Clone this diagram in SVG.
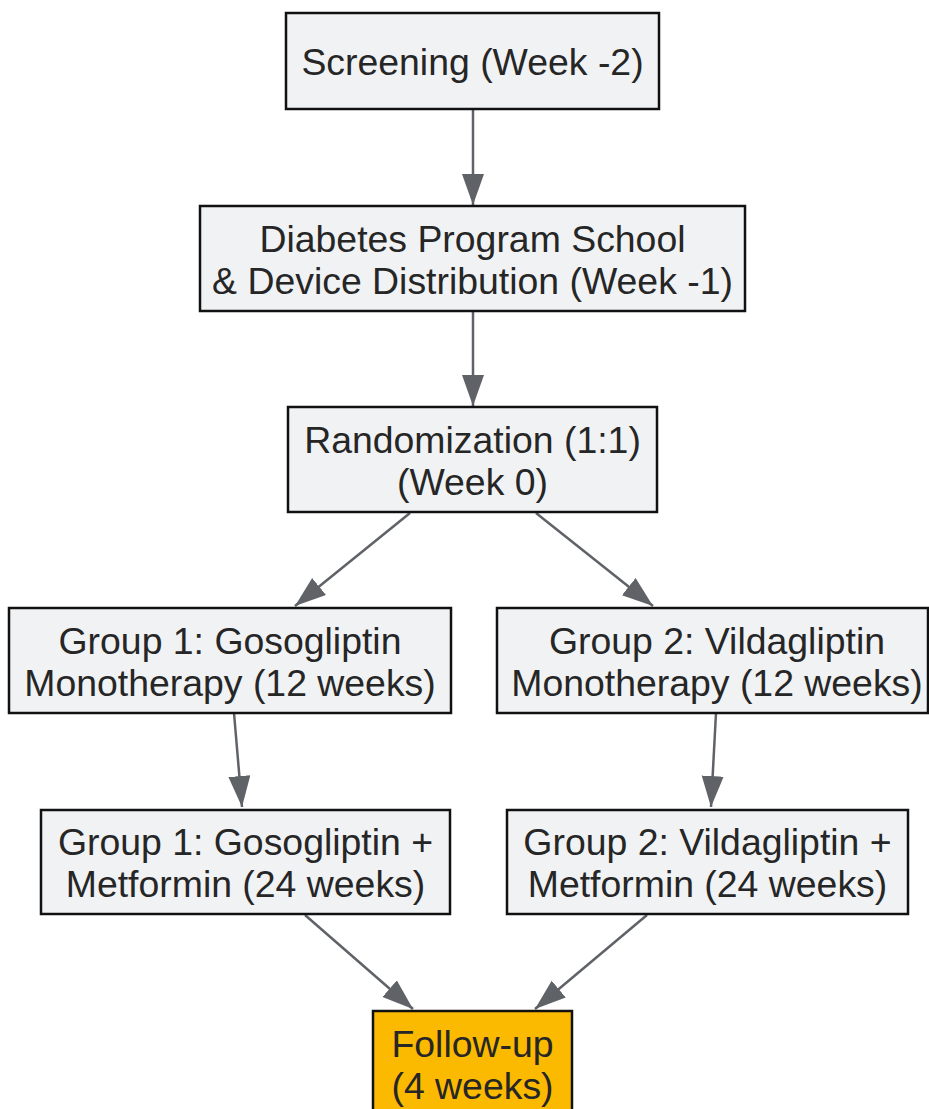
<svg xmlns="http://www.w3.org/2000/svg" width="929" height="1109" viewBox="0 0 929 1109">
<defs>
<style>
.box{fill:#f1f2f4;stroke:#111;stroke-width:2.5}
.fu{fill:#fbb900;stroke:#111;stroke-width:2.5}
text{font-family:"Liberation Sans",Arial,sans-serif;font-size:37.4px;fill:#262626;text-anchor:middle}
.edge{stroke:#5f6368;stroke-width:2.5;fill:none}
</style>
<marker id="ah" markerUnits="userSpaceOnUse" markerWidth="32" markerHeight="24" refX="31" refY="11" orient="auto">
<path d="M0,0 L31,11 L0,22 Z" fill="#5f6368"/>
</marker>
</defs>
<rect width="929" height="1109" fill="#fff"/>
<g id="connectors">
<line class="edge" x1="473" y1="109" x2="473" y2="205" marker-end="url(#ah)"/>
<line class="edge" x1="473" y1="311" x2="473" y2="406" marker-end="url(#ah)"/>
<line class="edge" x1="410" y1="513" x2="295" y2="606" marker-end="url(#ah)"/>
<line class="edge" x1="536" y1="513" x2="653" y2="606" marker-end="url(#ah)"/>
<line class="edge" x1="234" y1="713" x2="242" y2="807" marker-end="url(#ah)"/>
<line class="edge" x1="716" y1="713" x2="711" y2="807" marker-end="url(#ah)"/>
<line class="edge" x1="305" y1="915" x2="413" y2="1009" marker-end="url(#ah)"/>
<line class="edge" x1="647" y1="915" x2="535" y2="1009" marker-end="url(#ah)"/>
</g>
<g id="screening">
<rect class="box" x="286" y="13" width="373" height="96"/>
<text x="472.5" y="75">Screening (Week -2)</text>
</g>
<g id="school">
<rect class="box" x="200" y="206" width="545" height="105"/>
<text x="472.5" y="252">Diabetes Program School</text>
<text x="472.5" y="294">&amp; Device Distribution (Week -1)</text>
</g>
<g id="randomization">
<rect class="box" x="288" y="407" width="369" height="105"/>
<text x="472.5" y="453">Randomization (1:1)</text>
<text x="472.5" y="495">(Week 0)</text>
</g>
<g id="g1mono">
<rect class="box" x="9" y="608" width="442" height="105"/>
<text x="230" y="654">Group 1: Gosogliptin</text>
<text x="230" y="696">Monotherapy (12 weeks)</text>
</g>
<g id="g2mono">
<rect class="box" x="497" y="608" width="431" height="105"/>
<text x="717" y="654">Group 2: Vildagliptin</text>
<text x="717" y="696">Monotherapy (12 weeks)</text>
</g>
<g id="g1met">
<rect class="box" x="41" y="810" width="409" height="104"/>
<text x="245.5" y="855">Group 1: Gosogliptin +</text>
<text x="245.5" y="897">Metformin (24 weeks)</text>
</g>
<g id="g2met">
<rect class="box" x="507" y="810" width="401" height="104"/>
<text x="707.5" y="855">Group 2: Vildagliptin +</text>
<text x="707.5" y="897">Metformin (24 weeks)</text>
</g>
<g id="followup">
<rect class="fu" x="373" y="1011" width="199" height="110"/>
<text x="472.5" y="1057">Follow-up</text>
<text x="472.5" y="1099">(4 weeks)</text>
</g>
</svg>
